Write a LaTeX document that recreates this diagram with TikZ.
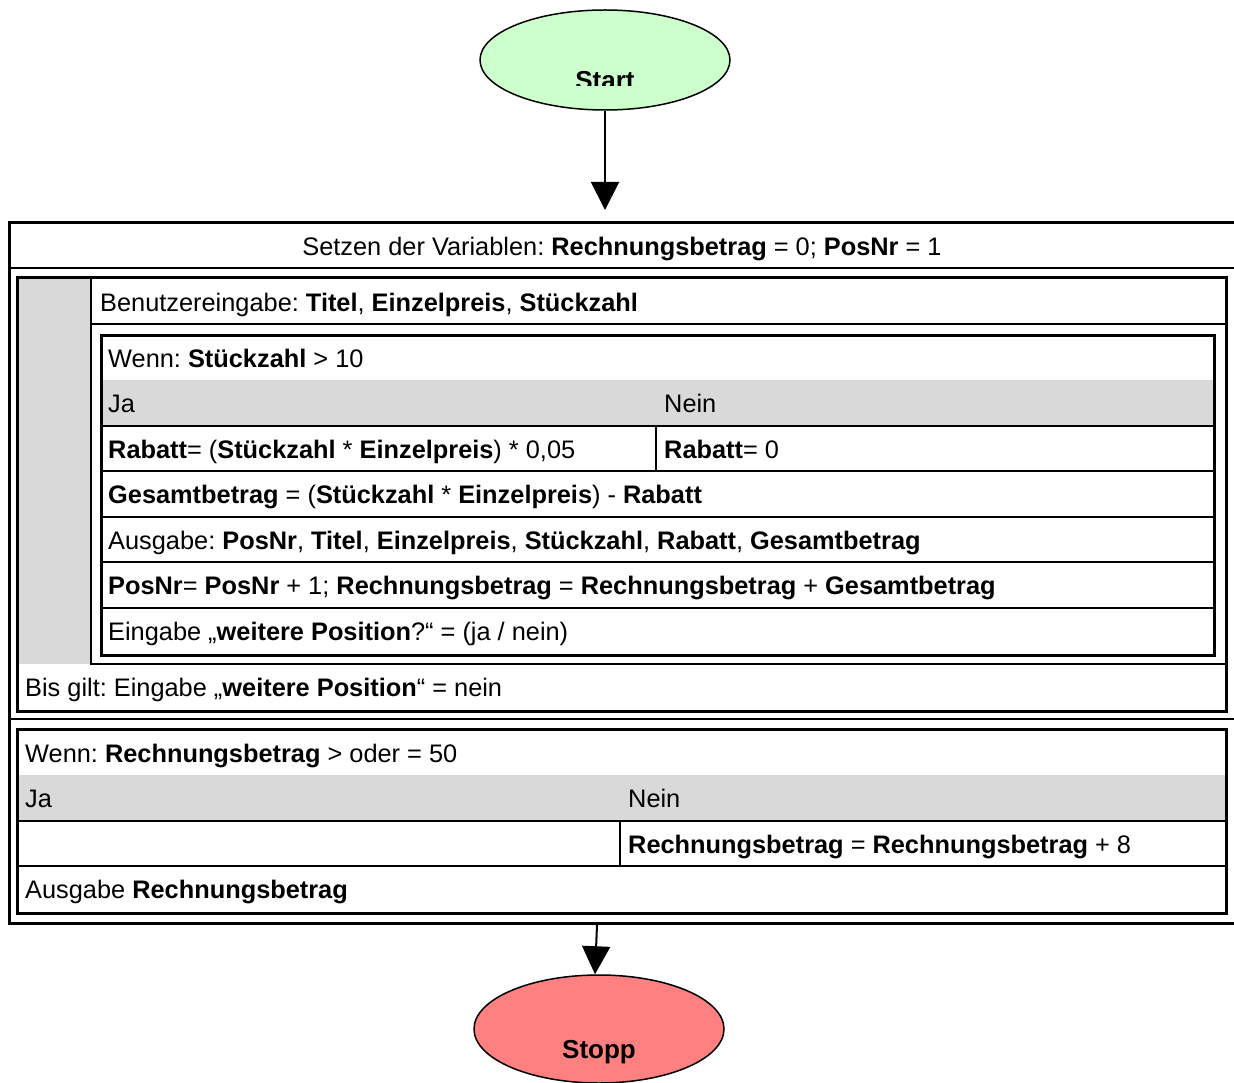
\documentclass[tikz,border=0pt]{standalone}
\usepackage{fontspec}
\setmainfont{Liberation Sans}
\usetikzlibrary{arrows.meta,shapes.geometric}
\definecolor{startgreen}{HTML}{CCFFCC}
\definecolor{stopred}{HTML}{FF8080}
\definecolor{band}{HTML}{D9D9D9}
\frenchspacing
\begin{document}
\begin{tikzpicture}[x=1pt,y=-1pt,
  txt/.style={anchor=base west,inner sep=0pt,font=\fontsize{25.35}{30}\selectfont},
  ctxt/.style={anchor=base,inner sep=0pt,font=\fontsize{25.35}{30}\selectfont},
  bold/.style={anchor=base,inner sep=0pt,font=\bfseries\fontsize{26}{30}\selectfont},
  frameline/.style={line width=3pt},
  rowline/.style={line width=1.8pt},
  term/.style={ellipse,draw,line width=1.5pt,minimum width=250pt,minimum height=100pt,inner sep=0pt},
  flow/.style={line width=2pt,-{Triangle[width=28pt,length=28pt]}}]
\useasboundingbox (0,0) rectangle (1234,1083);
\fill[white] (0,0) rectangle (1234,1083);

% terminals
\node[term,fill=startgreen] (start) at (605,60) {};
\begin{scope}
  \clip (470,0) rectangle (740,86);
  \node[bold] (starttxt) at (605,90) {Start};
\end{scope}
\node[term,fill=stopred,minimum height=108pt] (stop) at (599,1029) {};
\node[bold] (stoptxt) at (599,1058) {Stopp};

% connectors
\coordinate (frametop) at (605,210);
\draw[flow] (start.south) -- (frametop);
\coordinate (framebot) at (597,925);
\draw[flow] (framebot) -- ([xshift=-4pt]stop.north);

% outer frame
\draw[frameline] (1240,223) -- (9,223) -- (9,923) -- (1240,923);
\draw[rowline] (9,268) -- (1240,268);
\draw[rowline] (9,719) -- (1240,719);

% repeat block
\fill[band] (17,278) rectangle (91,664);
\draw[rowline] (91,278) -- (91,664) -- (1226,664);
\draw[rowline] (91,324) -- (1226,324);
\draw[frameline] (17,278) rectangle (1226,711);

% inner if block
\fill[band] (101,380) rectangle (1214,426);
\foreach \yy in {426,471,517,562,608} \draw[rowline] (101,\yy) -- (1214,\yy);
\draw[rowline] (656,426) -- (656,471);
\draw[frameline] (101,335) rectangle (1214,655);

% second if block
\fill[band] (18,775) rectangle (1225,821);
\foreach \yy in {821,866} \draw[rowline] (17,\yy) -- (1226,\yy);
\draw[rowline] (620,821) -- (620,866);
\draw[frameline] (17,729) rectangle (1226,913);

% texts
\node[ctxt] (setzen) at (622,256) {Setzen der Variablen: \textbf{Rechnungsbetrag} = 0; \textbf{PosNr} = 1};
\node[txt] (benutz) at (100,312) {Benutzereingabe: \textbf{Titel}, \textbf{Einzelpreis}, \textbf{Stückzahl}};
\node[txt] (wenn1) at (108,367.5) {Wenn: \textbf{Stückzahl} > 10};
\node[txt] (ja1) at (108,412.5) {Ja};
\node[txt] (nein1) at (664,412.5) {Nein};
\node[txt] (rab1) at (108,458) {\textbf{Rabatt}= (\textbf{Stückzahl} * \textbf{Einzelpreis}) * 0,05};
\node[txt] (rab2) at (664,458) {\textbf{Rabatt}= 0};
\node[txt] (ges) at (108,503.5) {\textbf{Gesamtbetrag} = (\textbf{Stückzahl} * \textbf{Einzelpreis}) - \textbf{Rabatt}};
\node[txt] (aus) at (108,549) {Ausgabe: \textbf{PosNr}, \textbf{Titel}, \textbf{Einzelpreis}, \textbf{Stückzahl}, \textbf{Rabatt}, \textbf{Gesamtbetrag}};
\node[txt] (pos) at (108,594.5) {\textbf{PosNr}= \textbf{PosNr} + 1; \textbf{Rechnungsbetrag} = \textbf{Rechnungsbetrag} + \textbf{Gesamtbetrag}};
\node[txt] (ein) at (108,640.5) {Eingabe „\textbf{weitere Position}?“ = (ja / nein)};
\node[txt] (bis) at (25,696) {Bis gilt: Eingabe „\textbf{weitere Position}“ = nein};
\node[txt] (wenn2) at (25,762.5) {Wenn: \textbf{Rechnungsbetrag} > oder = 50};
\node[txt] (ja2) at (25,807.5) {Ja};
\node[txt] (nein2) at (628,807.5) {Nein};
\node[txt] (rech) at (628,853) {\textbf{Rechnungsbetrag} = \textbf{Rechnungsbetrag} + 8};
\node[txt] (ausg) at (25,898.5) {Ausgabe \textbf{Rechnungsbetrag}};
\end{tikzpicture}
\end{document}
